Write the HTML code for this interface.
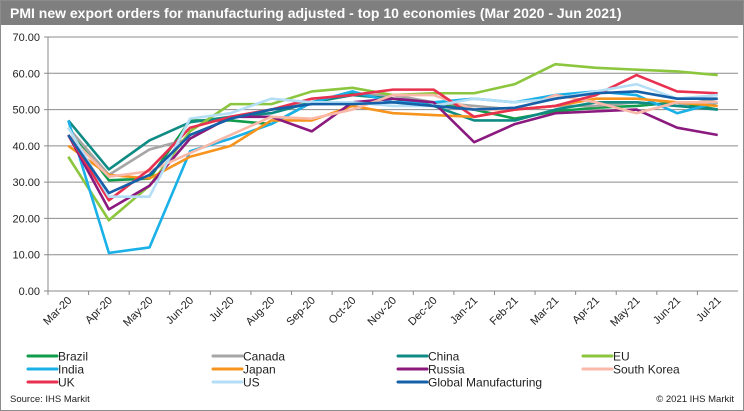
<!DOCTYPE html>
<html><head><meta charset="utf-8"><style>
body{margin:0;background:#fff;font-family:"Liberation Sans",Arial,sans-serif}
#wrap{position:relative;width:742px;height:409px;border:1px solid #8c8c8c;overflow:hidden}
#title{position:absolute;left:0;top:0;width:742px;height:24px;background:#7f7f7f;color:#fff;font-weight:bold;font-size:14px;line-height:24px;padding-left:9px;box-sizing:border-box}
svg{position:absolute;left:0;top:0}
</style></head><body>
<div id="wrap">
<div id="title">PMI new export orders for manufacturing adjusted - top 10 economies (Mar 2020 - Jun 2021)</div>
<svg id="chart" width="742" height="409"></svg>
</div>
<script>
const months=["Mar-20","Apr-20","May-20","Jun-20","Jul-20","Aug-20","Sep-20","Oct-20","Nov-20","Dec-20","Jan-21","Feb-21","Mar-21","Apr-21","May-21","Jun-21","Jul-21"];
const yTicks=[0,10,20,30,40,50,60,70];
const brazil=[45,30.5,31,47,47,46,52,54.5,53,52,50,47.5,49.5,50.5,51,52,50];
const canada=[45,32,39,42,48,50,52,54,54,52,51,50,51,51,52,51,53];
const china=[47,33.5,41.5,46.5,48,49,52,54,53,51,47,47,50,52,52,51,50];
const eu=[37,19.5,29,44,51.5,51.5,55,56,54,54.5,54.5,57,62.5,61.5,61,60.5,59.5];
const india=[47,10.5,12,38.5,42,46,52,55,52,52,53,52,54,55,54,49,52];
const japan=[40,32,31,37,40,47,47,51,49,48.5,48,50,51,53,53,52,51];
const russia=[43,22.5,29,42,48,48,44,52,53,52,41,46,49,49.5,50,45,43];
const southKorea=[43,31.5,33,38,43,48,47.5,50,54,54,50,50,54,52,49,52,52];
const uk=[43,25,33.5,45,48,50,53,54,55.5,55.5,48,50,51,54,59.5,55,54.5];
const us=[45,26,26,47.5,49,53,52,52,51,51,53,52,53,55,57,53,54];
const globalMfg=[43,27,32,43,47.5,50,51.5,51.5,52,51,50,50.5,53,54.5,55,53,53];
const series=[
 ["Brazil",brazil,"#119c4b"],["Canada",canada,"#a6a6a6"],["China",china,"#0e8b83"],["EU",eu,"#8cc63e"],
 ["India",india,"#1ab0e8"],["Japan",japan,"#f7941d"],["Russia",russia,"#8b1a7f"],["South Korea",southKorea,"#f9b8a8"],
 ["UK",uk,"#e8304f"],["US",us,"#b3def5"],["Global Manufacturing",globalMfg,"#1560a8"]];
const NS="http://www.w3.org/2000/svg";
const svg=document.getElementById('chart');
const X0=47,X1=737,Y0=290,Y1=36;
const step=(X1-X0)/months.length;
const x=i=>X0+step*(i+0.5);
const y=v=>Y0-(v/70)*(Y0-Y1);
function mk(t,a,p){const e=document.createElementNS(NS,t);for(const k in a)e.setAttribute(k,a[k]);(p||svg).appendChild(e);return e;}
yTicks.forEach(v=>{
 const g=mk('line',{x1:X0-4,x2:X1,y1:y(v),y2:y(v),stroke:v===0?'#888':'#8c8c8c','stroke-width':1});
 
 
 const t=mk('text',{x:X0-8,y:y(v)+4,'text-anchor':'end','font-size':11,fill:'#222'});
 t.textContent=v.toFixed(2);
 
 
});
const ax=mk('line',{x1:X0,x2:X0,y1:Y1,y2:Y0,stroke:'#888'});


months.forEach((m,i)=>{
 const tk=mk('line',{x1:X0+step*i,x2:X0+step*i,y1:Y0,y2:Y0+4,stroke:'#888'});
 
 
 const t=mk('text',{x:x(i)+4,y:Y0+10,'text-anchor':'end','font-size':11,fill:'#222',transform:`rotate(-45 ${x(i)+4} ${Y0+10})`});
 t.textContent=m;
 
 
});
series.forEach(([n,d,c])=>{
 const p=mk('polyline',{points:d.map((v,i)=>x(i)+','+y(v)).join(' '),fill:'none',stroke:c,'stroke-width':2.6,'stroke-linejoin':'round'});
 
 
});
const cols=[27,212,397,582],rows=[355,368,381];
series.forEach(([n,d,c],k)=>{
 const cx=cols[k%4],cy=rows[Math.floor(k/4)];
 const l=mk('line',{x1:cx,x2:cx+29,y1:cy,y2:cy,stroke:c,'stroke-width':3,'stroke-linecap':'round'});
 
 
 const t=mk('text',{x:cx+30,y:cy+4.5,'font-size':12,fill:'#222'});
 t.textContent=n;
 
 
});
const s=mk('text',{x:9,y:401,'font-size':9.5,fill:'#222'});s.textContent='Source: IHS Markit';


const c2=mk('text',{x:733,y:401,'font-size':9.5,fill:'#222','text-anchor':'end'});c2.textContent='© 2021 IHS Markit';


</script>
</body></html>
